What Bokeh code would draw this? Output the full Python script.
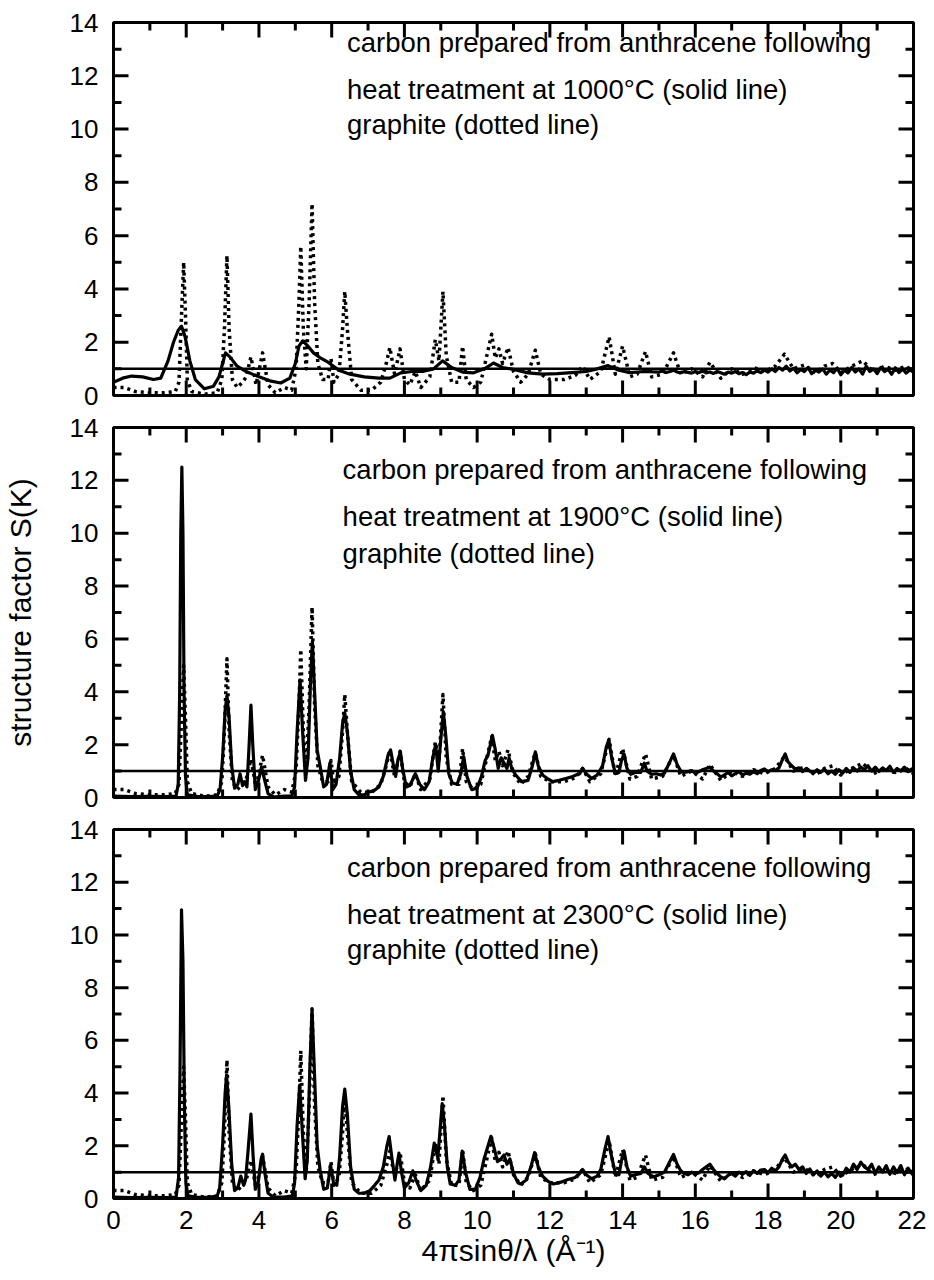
import math
from bokeh.plotting import figure
from bokeh.layouts import column
from bokeh.models import LinearAxis, FixedTicker, Span, Range1d, Label
from bokeh.embed import file_html
from bokeh.resources import INLINE

FONT = "Liberation Sans"

# ---------------- data ----------------
X_LIMITS = (0, 22)
Y_LIMITS = (0, 14)
X_MAJOR = [0, 2, 4, 6, 8, 10, 12, 14, 16, 18, 20, 22]
X_MINOR = [1, 3, 5, 7, 9, 11, 13, 15, 17, 19, 21]
Y_MAJOR = [0, 2, 4, 6, 8, 10, 12, 14]
Y_MINOR = [1, 3, 5, 7, 9, 11, 13]
UNITY = 1.0
TEMPERATURES = ["1000", "1900", "2300"]

GRAPHITE_X = [0.0, 0.3, 0.6, 1.0, 1.4, 1.7, 1.8, 1.87, 1.93, 1.98, 2.03, 2.15, 2.5, 2.85, 2.98,
              3.05, 3.12, 3.18, 3.27, 3.4, 3.55, 3.65, 3.78, 3.92, 4.1, 4.25, 4.45, 4.7, 4.9,
              5.02, 5.1, 5.15, 5.22, 5.3, 5.38, 5.46, 5.53, 5.62, 5.75, 5.9, 5.98, 6.06, 6.2,
              6.3, 6.36, 6.43, 6.55, 6.8, 7.1, 7.35, 7.5, 7.6, 7.73, 7.88, 8.0, 8.15, 8.3, 8.45,
              8.7, 8.85, 8.95, 9.06, 9.15, 9.3, 9.5, 9.6, 9.7, 9.9, 10.1, 10.25, 10.4, 10.5,
              10.6, 10.7, 10.85, 11.0, 11.2, 11.4, 11.6, 11.75, 12.0, 12.4, 12.7, 12.9, 13.1,
              13.4, 13.63, 13.8, 14.0, 14.2, 14.4, 14.63, 14.8, 15.1, 15.4, 15.6, 15.9, 16.2,
              16.4, 16.7, 17.0, 17.3, 17.6, 17.9, 18.2, 18.45, 18.7, 19.0, 19.3, 19.55, 19.78,
              20.0, 20.3, 20.6, 20.9, 21.2, 21.5, 21.8, 22.0]
GRAPHITE_Y = [0.3, 0.3, 0.15, 0.1, 0.1, 0.15, 0.5, 3.0, 5.0, 3.0, 0.6, 0.15, 0.05, 0.1, 0.6,
              2.5, 5.25, 2.5, 0.6, 0.3, 0.5, 0.7, 1.45, 0.4, 1.6, 0.4, 0.1, 0.3, 0.2,
              1.0, 3.5, 5.6, 2.5, 1.0, 3.5, 7.2, 3.5, 1.2, 0.6, 0.6, 1.4, 0.5, 0.8,
              2.5, 3.9, 2.5, 0.6, 0.2, 0.2, 0.5, 1.2, 1.8, 0.8, 1.75, 0.6, 0.4, 0.9, 0.3,
              0.7, 2.1, 1.3, 3.9, 1.5, 0.5, 0.5, 1.85, 0.6, 0.3, 0.5, 1.4, 2.3, 1.4,
              1.75, 1.2, 1.8, 0.9, 0.5, 0.8, 1.7, 0.8, 0.6, 0.6, 0.75, 1.1, 0.6,
              0.9, 2.2, 0.8, 1.85, 0.7, 0.8, 1.65, 0.7, 0.8, 1.6, 0.8, 1.0, 0.7,
              1.25, 0.65, 1.0, 0.8, 1.05, 0.9, 1.1, 1.55, 1.0, 1.15, 0.85, 1.1, 1.2,
              0.85, 1.1, 1.3, 0.9, 1.1, 0.95, 1.1, 0.9]

S1000_X = [0.0, 0.25, 0.5, 0.8, 1.1, 1.3, 1.5, 1.65, 1.78, 1.87, 1.97, 2.1, 2.25, 2.5, 2.75,
           2.9, 3.0, 3.08, 3.2, 3.4, 3.65, 4.0, 4.3, 4.6, 4.85, 5.0, 5.1, 5.2, 5.35, 5.5,
           5.7, 5.9, 6.2, 6.5, 6.9, 7.3, 7.6, 7.9, 8.2, 8.5, 8.8, 9.05, 9.3, 9.6, 9.9,
           10.2, 10.45, 10.7, 11.0, 11.4, 11.8, 12.2, 12.6, 13.0, 13.3, 13.6, 13.9, 14.2,
           14.6, 15.0, 15.1, 15.2, 15.3, 15.4, 15.5, 15.6, 15.7, 15.8, 15.9, 16.0, 16.1,
           16.2, 16.3, 16.4, 16.5, 16.6, 16.7, 16.8, 16.9, 17.0, 17.1, 17.2, 17.3, 17.4,
           17.5, 17.6, 17.7, 17.8, 17.9, 18.0, 18.1, 18.2, 18.3, 18.4, 18.5, 18.6, 18.7,
           18.8, 18.9, 19.0, 19.1, 19.2, 19.3, 19.4, 19.5, 19.6, 19.7, 19.8, 19.9, 20.0,
           20.1, 20.2, 20.3, 20.4, 20.5, 20.6, 20.7, 20.8, 20.9, 21.0, 21.1, 21.2, 21.3,
           21.4, 21.5, 21.6, 21.7, 21.8, 21.9, 22.0]
S1000_Y = [0.5, 0.65, 0.73, 0.7, 0.6, 0.65, 1.3, 2.0, 2.45, 2.6, 2.2, 1.3, 0.6, 0.25, 0.35,
           0.7, 1.2, 1.6, 1.45, 1.1, 0.9, 0.7, 0.55, 0.47, 0.65, 1.2, 1.85, 2.05, 1.85, 1.6,
           1.4, 1.25, 0.95, 0.8, 0.7, 0.65, 0.65, 0.85, 0.9, 0.9, 1.0, 1.3, 1.05, 0.88, 0.85,
           1.0, 1.22, 1.05, 0.98, 0.85, 0.8, 0.82, 0.86, 0.9, 1.0, 1.12, 0.95, 0.86,
           0.9, 0.88, 0.92, 0.86, 0.9, 0.95, 0.88, 0.85, 0.9, 0.87, 0.84, 0.9, 0.86,
           0.92, 0.85, 0.88, 0.83, 0.9, 0.85, 0.8, 0.88, 0.84, 0.9, 0.82, 0.86, 0.78,
           0.88, 0.84, 0.92, 0.86, 0.95, 0.88, 1.0, 0.9, 1.05, 0.95, 1.1, 0.92, 1.02,
           0.85, 0.98, 0.9, 1.05, 0.82, 0.95, 0.88, 1.0, 0.8, 0.96, 0.86, 1.02, 0.78,
           0.95, 0.85, 1.05, 0.88, 1.0, 0.8, 1.1, 0.9, 1.0, 0.82, 1.05, 0.9, 0.98,
           0.8, 1.04, 0.86, 1.0, 0.84, 0.96, 0.88]

S1900_X = [0.0, 0.5, 1.0, 1.5, 1.72, 1.78, 1.82, 1.85, 1.88, 1.91, 1.94, 1.98, 2.03, 2.3, 2.6,
           2.85, 2.93, 3.0, 3.07, 3.12, 3.18, 3.25, 3.33, 3.42, 3.48, 3.55, 3.6, 3.67, 3.73,
           3.78, 3.83, 3.9, 3.98, 4.07, 4.15, 4.25, 4.4, 4.7, 4.9, 4.98, 5.05, 5.13, 5.2,
           5.28, 5.35, 5.42, 5.47, 5.53, 5.6, 5.68, 5.78, 5.86, 5.95, 6.03, 6.12, 6.22, 6.3,
           6.36, 6.43, 6.52, 6.62, 6.75, 6.9, 7.0, 7.15, 7.3, 7.42, 7.55, 7.62, 7.7, 7.76,
           7.82, 7.89, 7.95, 8.05, 8.15, 8.3, 8.42, 8.55, 8.68, 8.78, 8.86, 8.93, 9.0, 9.07,
           9.14, 9.22, 9.32, 9.45, 9.55, 9.63, 9.72, 9.85, 10.0, 10.12, 10.22, 10.3, 10.42,
           10.5, 10.58, 10.66, 10.74, 10.82, 10.88, 10.95, 11.06, 11.22, 11.4, 11.52, 11.6,
           11.68, 11.8, 11.95, 12.08, 12.25, 12.44, 12.6, 12.72, 12.82, 12.9, 13.0, 13.15,
           13.3, 13.45, 13.55, 13.62, 13.7, 13.8, 13.9, 13.97, 14.04, 14.12, 14.22, 14.35,
           14.5, 14.6, 14.67, 14.8, 14.92, 15.05, 15.15, 15.3, 15.4, 15.5, 15.6, 15.7, 15.8,
           15.9, 16.0, 16.1, 16.2, 16.3, 16.4, 16.5, 16.6, 16.7, 16.8, 16.9, 17.0, 17.1,
           17.2, 17.3, 17.4, 17.5, 17.6, 17.7, 17.8, 17.9, 18.0, 18.1, 18.2, 18.3, 18.4,
           18.47, 18.55, 18.65, 18.75, 18.85, 18.95, 19.05, 19.15, 19.25, 19.35, 19.45,
           19.55, 19.65, 19.75, 19.85, 19.95, 20.05, 20.15, 20.25, 20.35, 20.45, 20.55,
           20.65, 20.75, 20.85, 20.95, 21.05, 21.15, 21.25, 21.35, 21.45, 21.55, 21.65,
           21.75, 21.85, 21.95, 22.0]
S1900_Y = [0.05, 0.03, 0.04, 0.03, 0.05, 0.5, 4.0, 10.0, 12.5, 10.0, 4.0, 0.8, 0.1, 0.04, 0.03,
           0.05, 0.3, 1.5, 3.3, 3.85, 3.0, 1.2, 0.35, 0.5, 0.9, 0.45, 0.6, 0.4, 2.0,
           3.5, 2.0, 0.3, 0.6, 1.15, 0.7, 0.15, 0.02, 0.05, 0.05, 0.4, 2.5, 4.45, 2.5,
           0.65, 1.5, 4.5, 5.9, 4.0, 1.8, 1.2, 0.4, 0.5, 1.3, 0.3, 0.5, 1.5, 2.8,
           3.2, 2.5, 1.0, 0.3, 0.1, 0.1, 0.2, 0.25, 0.4, 0.8, 1.6, 1.8, 1.2, 0.8,
           1.4, 1.73, 1.1, 0.4, 0.45, 0.9, 0.5, 0.3, 0.6, 1.5, 2.0, 1.0, 2.2, 3.25,
           2.3, 0.9, 0.55, 0.5, 0.9, 1.55, 0.8, 0.3, 0.35, 0.8, 1.4, 1.6, 2.35,
           1.8, 1.1, 1.5, 1.3, 1.1, 1.5, 1.1, 0.85, 0.6, 0.65, 1.2, 1.73,
           1.2, 0.85, 0.7, 0.6, 0.65, 0.72, 0.78, 0.85, 0.9, 1.1, 0.9, 0.72,
           0.85, 1.2, 1.9, 2.17, 1.5, 0.9, 0.95, 1.4, 1.65, 1.1, 0.88, 0.95,
           0.95, 1.3, 1.0, 0.88, 0.9, 0.85, 0.92, 1.35, 1.65, 1.25, 1.0, 0.95, 0.98,
           1.02, 0.92, 0.98, 1.05, 1.1, 1.15, 1.0, 0.9, 0.78, 0.85, 0.95, 0.82, 0.9,
           0.98, 0.85, 0.92, 0.88, 0.98, 0.9, 1.02, 1.08, 0.98, 1.05, 1.02, 1.12, 1.45,
           1.65, 1.35, 1.2, 1.08, 1.12, 0.98, 1.1, 1.0, 0.92, 1.05, 0.95,
           1.08, 0.9, 1.0, 0.88, 1.05, 0.92, 1.1, 0.95, 1.12, 1.0, 1.15,
           1.05, 1.2, 1.0, 1.15, 0.98, 1.12, 1.02, 1.18, 0.95, 1.1, 1.0,
           1.15, 0.98, 1.08, 1.02]

S2300_X = [0.0, 0.5, 1.0, 1.5, 1.72, 1.79, 1.83, 1.87, 1.91, 1.95, 1.99, 2.05, 2.3, 2.6, 2.85,
           2.92, 3.0, 3.07, 3.11, 3.17, 3.25, 3.33, 3.42, 3.5, 3.58, 3.63, 3.7, 3.78, 3.84,
           3.9, 3.98, 4.06, 4.1, 4.16, 4.25, 4.4, 4.7, 4.92, 4.98, 5.05, 5.12, 5.19, 5.27,
           5.33, 5.4, 5.46, 5.52, 5.6, 5.68, 5.78, 5.88, 5.97, 6.05, 6.14, 6.22, 6.3, 6.36,
           6.43, 6.52, 6.62, 6.75, 6.9, 7.05, 7.18, 7.3, 7.42, 7.52, 7.58, 7.66, 7.74, 7.8,
           7.85, 7.92, 8.0, 8.12, 8.23, 8.35, 8.45, 8.6, 8.72, 8.82, 8.92, 8.98, 9.04, 9.1,
           9.18, 9.26, 9.4, 9.5, 9.59, 9.68, 9.8, 9.95, 10.08, 10.19, 10.3, 10.38, 10.47,
           10.56, 10.65, 10.74, 10.82, 10.9, 11.0, 11.12, 11.2, 11.35, 11.48, 11.58, 11.68,
           11.8, 11.95, 12.1, 12.3, 12.5, 12.7, 12.82, 12.9, 13.0, 13.15, 13.3, 13.4, 13.52,
           13.6, 13.68, 13.8, 13.9, 13.98, 14.04, 14.12, 14.22, 14.35, 14.5, 14.6, 14.7,
           14.85, 15.0, 15.15, 15.3, 15.4, 15.5, 15.6, 15.7, 15.8, 15.9, 16.0, 16.1, 16.2,
           16.3, 16.4, 16.5, 16.6, 16.7, 16.8, 16.9, 17.0, 17.1, 17.2, 17.3, 17.4, 17.5,
           17.6, 17.7, 17.8, 17.9, 18.0, 18.1, 18.2, 18.3, 18.4, 18.47, 18.55, 18.65, 18.75,
           18.85, 18.95, 19.05, 19.15, 19.25, 19.35, 19.45, 19.55, 19.65, 19.75, 19.85,
           19.95, 20.05, 20.15, 20.25, 20.35, 20.45, 20.55, 20.65, 20.75, 20.85, 20.95,
           21.05, 21.15, 21.25, 21.35, 21.45, 21.55, 21.65, 21.75, 21.85, 21.95, 22.0]
S2300_Y = [0.05, 0.03, 0.04, 0.03, 0.05, 0.8, 5.0, 10.95, 9.0, 3.5, 0.6, 0.1, 0.04, 0.05, 0.08,
           0.4, 2.0, 4.0, 4.68, 3.5, 1.3, 0.3, 0.4, 0.85, 0.5, 0.7, 1.8, 3.2, 1.6,
           0.35, 0.6, 1.5, 1.68, 1.0, 0.2, 0.05, 0.05, 0.1, 0.6, 2.8, 4.3, 2.6, 0.75,
           1.5, 5.0, 7.15, 5.0, 2.0, 1.1, 0.35, 0.4, 1.25, 0.6, 0.5, 1.6, 3.5, 4.15,
           3.2, 1.2, 0.35, 0.2, 0.2, 0.3, 0.5, 0.7, 1.2, 2.0, 2.35, 1.5, 0.7, 1.3,
           1.72, 1.0, 0.4, 0.6, 1.05, 0.6, 0.3, 0.5, 1.2, 2.1, 1.55, 2.6, 3.6, 2.8,
           1.2, 0.55, 0.5, 0.7, 1.8, 1.0, 0.35, 0.35, 0.8, 1.5, 2.0, 2.36, 1.9,
           1.4, 1.5, 1.65, 1.3, 1.5, 0.95, 0.6, 0.55, 0.7, 1.2, 1.74, 1.2,
           0.85, 0.65, 0.55, 0.62, 0.72, 0.8, 0.95, 1.1, 0.9, 0.75, 0.85, 1.1, 1.9,
           2.35, 1.7, 0.95, 0.9, 1.5, 1.8, 1.2, 0.85, 0.9, 0.95, 1.2, 0.95,
           0.82, 0.9, 1.0, 1.4, 1.67, 1.3, 1.05, 0.95, 0.9, 1.0, 0.92, 0.98, 1.1,
           1.2, 1.3, 1.1, 0.95, 0.82, 0.75, 0.88, 0.95, 0.85, 1.0, 0.92, 1.02, 0.88,
           1.05, 0.95, 1.08, 1.1, 0.98, 1.15, 1.05, 1.2, 1.5, 1.65, 1.4, 1.2, 1.3,
           1.1, 1.2, 0.95, 1.12, 0.9, 1.05, 0.85, 1.0, 0.82, 0.95, 0.8,
           1.0, 0.88, 1.15, 1.0, 1.3, 1.1, 1.38, 1.2, 1.1, 1.3, 0.95,
           1.2, 1.0, 1.25, 0.92, 1.2, 0.98, 1.25, 0.9, 1.15, 0.95, 1.1]

SOLIDS = [(S1000_X, S1000_Y), (S1900_X, S1900_Y), (S2300_X, S2300_Y)]

# ---------------- layout ----------------
FRAME_W = 800
FRAME_H = [373, 370, 369]
BORDER_TOP = [22, 16, 16]
BORDER_BOTTOM = [16, 16, 20]
TEXT_X = [6.42, 6.3, 6.42]
TEXT_Y = [[13.24, 11.5, 10.16], [12.41, 10.64, 9.25], [12.54, 10.76, 9.43]]
TICK_FONT = "26px"
MAJOR_LEN = 15
MINOR_LEN = 8


def style_axis(ax):
    ax.ticker = FixedTicker(ticks=Y_MAJOR if ax is None else [])
    ax.axis_line_width = 3
    ax.axis_line_color = "black"
    ax.major_tick_in = 0
    ax.major_tick_out = 0
    ax.minor_tick_in = 0
    ax.minor_tick_out = 0
    ax.major_label_text_font = FONT
    ax.major_label_text_font_size = TICK_FONT
    ax.major_label_text_color = "black"
    ax.major_label_standoff = 15
    ax.axis_label_text_font = FONT
    ax.axis_label_text_font_size = "30px"
    ax.axis_label_text_font_style = "normal"
    ax.axis_label_text_color = "black"


def add_ticks(p, positions, fixed, length, vertical):
    if vertical:
        for edge in fixed:
            p.scatter(x=positions, y=[edge] * len(positions), marker="dash",
                      size=2 * length, angle=math.pi / 2, line_color="black",
                      line_width=3)
    else:
        for edge in fixed:
            p.scatter(x=[edge] * len(positions), y=positions, marker="dash",
                      size=2 * length, line_color="black", line_width=3)


panels = []
for i in range(3):
    p = figure(frame_width=FRAME_W, frame_height=FRAME_H[i],
               x_range=Range1d(*X_LIMITS), y_range=Range1d(*Y_LIMITS),
               x_axis_location=None, y_axis_location=None,
               output_backend="svg", toolbar_location=None,
               min_border_left=112, min_border_right=14,
               min_border_top=BORDER_TOP[i], min_border_bottom=BORDER_BOTTOM[i])
    p.xgrid.visible = False
    p.ygrid.visible = False
    p.outline_line_color = "black"
    p.outline_line_width = 3
    p.background_fill_color = "white"
    p.border_fill_color = "white"

    left = LinearAxis()
    style_axis(left)
    left.ticker = FixedTicker(ticks=Y_MAJOR)
    if i == 1:
        left.axis_label = "structure factor S(K)"
        left.axis_label_standoff = 30
    p.add_layout(left, "left")
    if i == 2:
        bottom = LinearAxis()
        style_axis(bottom)
        bottom.ticker = FixedTicker(ticks=X_MAJOR)
        bottom.major_label_standoff = 12
        bottom.axis_label = "4πsinθ/λ (Å⁻¹)"
        bottom.axis_label_standoff = 2
        p.add_layout(bottom, "below")

    # graphite (dotted) then carbon (solid)
    p.line(GRAPHITE_X, GRAPHITE_Y, line_color="black", line_width=3.5,
           line_dash="3 4", line_join="round")
    sx, sy = SOLIDS[i]
    p.line(sx, sy, line_color="black", line_width=3.2, line_join="round")
    p.add_layout(Span(location=UNITY, dimension="width", line_color="black",
                      line_width=2.5))

    # inward tick marks on all four sides
    add_ticks(p, Y_MAJOR, X_LIMITS, MAJOR_LEN, False)
    add_ticks(p, Y_MINOR, X_LIMITS, MINOR_LEN, False)
    add_ticks(p, X_MAJOR, Y_LIMITS, MAJOR_LEN, True)
    add_ticks(p, X_MINOR, Y_LIMITS, MINOR_LEN, True)

    lines = ["carbon prepared from anthracene following",
             "heat treatment at %s°C (solid line)" % TEMPERATURES[i],
             "graphite (dotted line)"]
    for txt, ty in zip(lines, TEXT_Y[i]):
        p.add_layout(Label(x=TEXT_X[i], y=ty, text=txt, text_font=FONT,
                           text_font_size="27.5px", text_baseline="middle",
                           text_color="black"))
    panels.append(p)

layout = column(*panels, spacing=0)
open("out.html", "w").write(file_html(layout, INLINE))
